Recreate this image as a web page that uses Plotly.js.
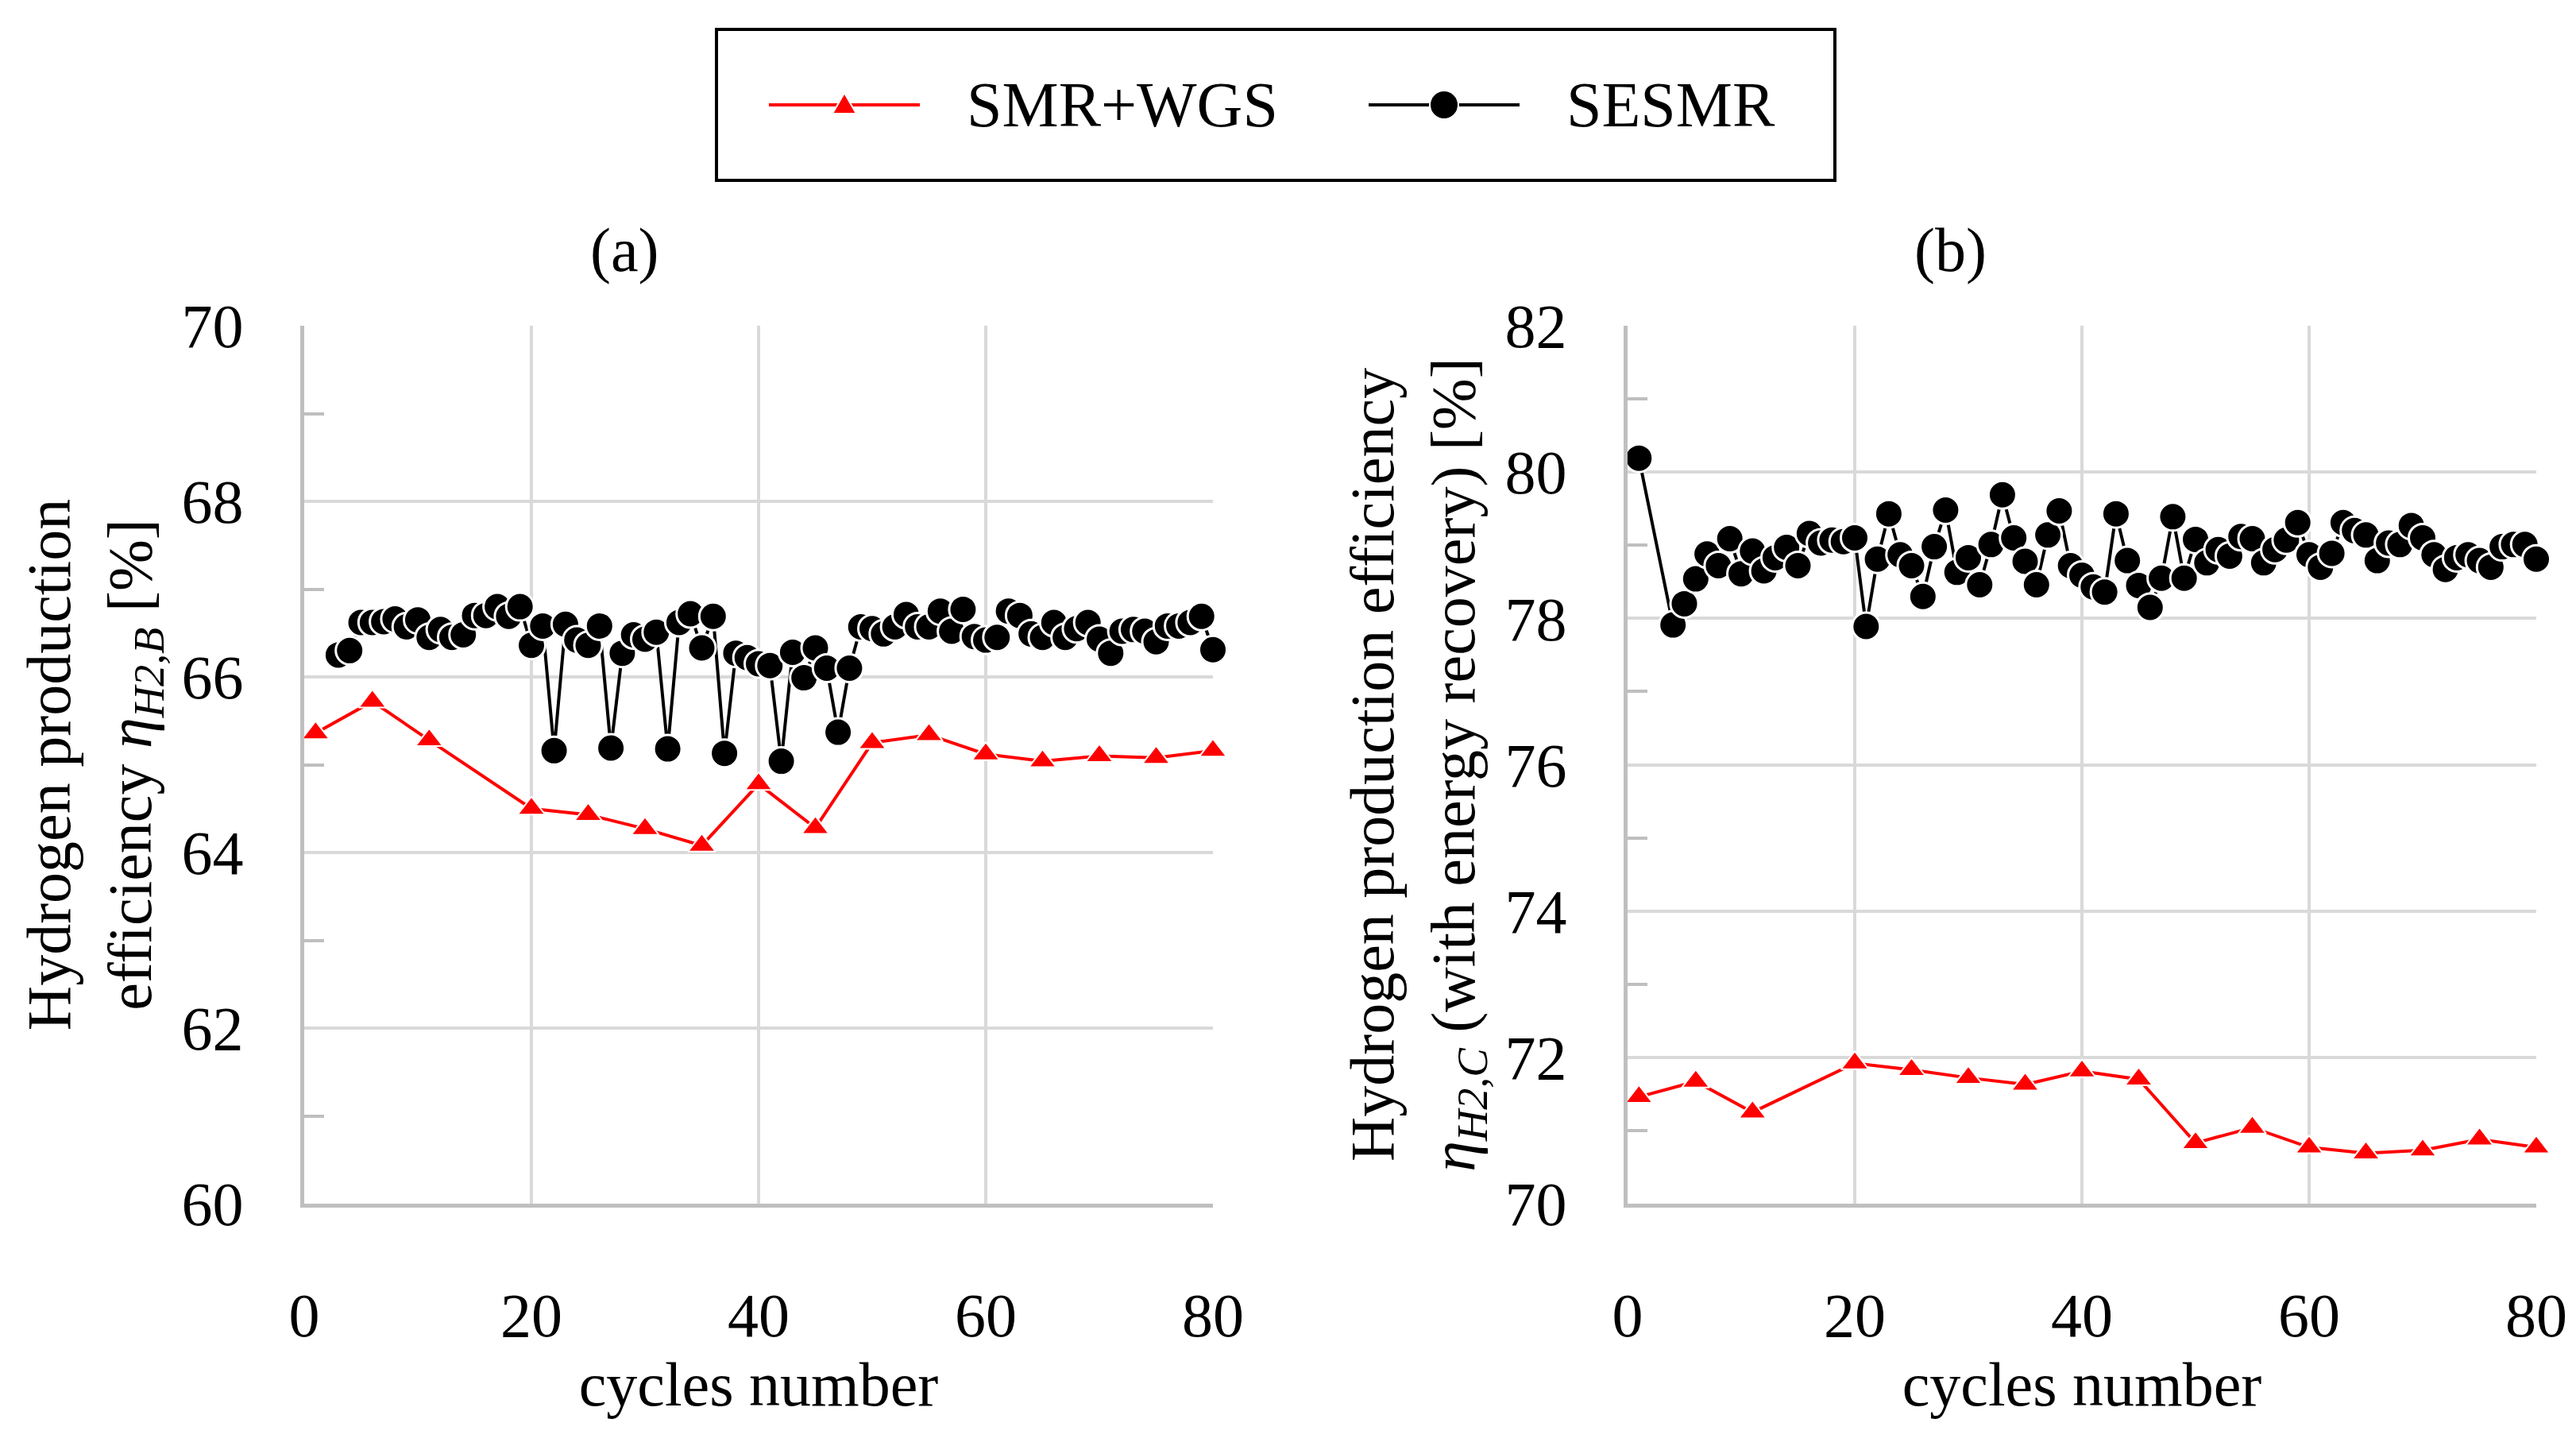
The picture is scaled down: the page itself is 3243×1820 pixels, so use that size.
<!DOCTYPE html>
<html><head><meta charset="utf-8">
<script src="https://cdn.plot.ly/plotly-3.0.1.min.js"></script>
<style>html,body{margin:0;padding:0;background:#fff;}#chart{width:3243px;height:1820px;}</style>
</head><body><div id="chart"></div>
<script>
// ---------------- data ----------------
const xTickVals = [0, 20, 40, 60, 80];
const seriesNames = ['SMR+WGS', 'SESMR'];
const panelTitles = ['(a)', '(b)'];

const cyclesSMR = [1, 6, 11, 20, 25, 30, 35, 40, 45, 50, 55, 60, 65, 70, 75, 80];
const smrWgsA = [65.36, 65.72, 65.28, 64.50, 64.43, 64.27, 64.08, 64.78, 64.28, 65.25, 65.34, 65.12, 65.04, 65.10, 65.08, 65.16];
const smrWgsB = [71.46, 71.67, 71.25, 71.92, 71.83, 71.72, 71.63, 71.81, 71.70, 70.83, 71.04, 70.77, 70.69, 70.73, 70.88, 70.77];

const cyclesSesmrA = [3,4,5,6,7,8,9,10,11,12,13,14,15,16,17,18,19,20,21,22,23,24,25,26,27,28,29,30,31,32,33,34,35,36,37,38,39,40,41,42,43,44,45,46,47,48,49,50,51,52,53,54,55,56,57,58,59,60,61,62,63,64,65,66,67,68,69,70,71,72,73,74,75,76,77,78,79,80];
const sesmrA = [66.25,66.30,66.62,66.62,66.63,66.66,66.57,66.65,66.45,66.54,
                66.45,66.48,66.70,66.70,66.80,66.69,66.80,66.36,66.58,65.16,
                66.60,66.42,66.36,66.58,65.19,66.27,66.48,66.43,66.51,65.18,
                66.62,66.72,66.33,66.69,65.13,66.27,66.22,66.15,66.13,65.04,
                66.28,65.99,66.33,66.10,65.37,66.10,66.57,66.55,66.49,66.57,
                66.71,66.57,66.57,66.75,66.52,66.77,66.46,66.42,66.45,66.75,
                66.70,66.49,66.45,66.62,66.45,66.55,66.62,66.43,66.27,66.52,
                66.54,66.52,66.40,66.58,66.58,66.62,66.69,66.31];

const cyclesSesmrB = [1,4,5,6,7,8,9,10,11,12,13,14,15,16,17,18,19,20,21,22,23,24,25,26,27,28,29,30,31,32,33,34,35,36,37,38,39,40,41,42,43,44,45,46,47,48,49,50,51,52,53,54,55,56,57,58,59,60,61,62,63,64,65,66,67,68,69,70,71,72,73,74,75,76,77,78,79,80];
const sesmrB = [80.19,
                77.91,78.20,78.54,78.88,78.72,79.09,78.61,78.92,78.65,78.83,
                78.97,78.72,79.16,79.03,79.07,79.05,79.10,77.89,78.81,79.43,
                78.87,78.72,78.30,78.98,79.48,78.63,78.83,78.46,79.01,79.69,
                79.10,78.78,78.46,79.14,79.47,78.72,78.59,78.43,78.36,79.43,
                78.79,78.45,78.15,78.55,79.39,78.55,79.08,78.76,78.94,78.85,
                79.12,79.09,78.76,78.94,79.07,79.31,78.87,78.70,78.89,79.31,
                79.20,79.14,78.79,79.03,79.01,79.27,79.10,78.87,78.67,78.83,
                78.87,78.79,78.70,78.98,79.01,79.01,78.81];

// ---------------- style / layout ----------------
const W = 3243, H = 1820;
const M = {l: 383, r: 50, t: 410, b: 305};
const PW = W - M.l - M.r, PH = H - M.t - M.b;
const px2x = p => (p - M.l) / PW;
const px2y = p => (H - M.b - p) / PH;

const SERIF = '"Liberation Serif", "Times New Roman", Times, serif';
const RED = '#ff0000', BLACK = '#000000';
const tickFont = {family: SERIF, size: 78, color: '#000'};
const titleFont = {family: SERIF, size: 78, color: '#000'};

function smrTrace(x, y, xa, ya) {
  return {x: x, y: y, xaxis: xa, yaxis: ya, type: 'scatter', mode: 'lines+markers',
    name: seriesNames[0], showlegend: false, cliponaxis: false,
    line: {color: RED, width: 4},
    marker: {symbol: 'triangle-up', size: 30, color: RED, line: {color: '#fff', width: 2}}};
}
function sesmrTrace(x, y, xa, ya) {
  return {x: x, y: y, xaxis: xa, yaxis: ya, type: 'scatter', mode: 'lines+markers',
    name: seriesNames[1], showlegend: false, cliponaxis: false,
    line: {color: BLACK, width: 4},
    marker: {symbol: 'circle', size: 35, color: BLACK, line: {color: '#fff', width: 3}}};
}

const traces = [
  smrTrace(cyclesSMR, smrWgsA, 'x', 'y'),
  sesmrTrace(cyclesSesmrA, sesmrA, 'x', 'y'),
  smrTrace(cyclesSMR, smrWgsB, 'x2', 'y2'),
  sesmrTrace(cyclesSesmrB, sesmrB, 'x2', 'y2')
];

function xAxis(domain, anchor) {
  return {domain: domain, anchor: anchor, range: [0, 80], tickvals: xTickVals, ticks: '',
    showgrid: true, gridcolor: '#d9d9d9', gridwidth: 4, zeroline: false,
    showline: true, linecolor: '#bfbfbf', linewidth: 5,
    tickfont: tickFont, ticklabelstandoff: 68, automargin: false,
    title: {text: 'cycles number', font: titleFont, standoff: 16}};
}
function yAxis(range, anchor, title) {
  return {domain: [0, 1], anchor: anchor, range: range, dtick: 2, ticks: '',
    showgrid: true, gridcolor: '#d9d9d9', gridwidth: 4, zeroline: false,
    showline: true, linecolor: '#bfbfbf', linewidth: 5,
    minor: {dtick: 1, ticks: 'inside', ticklen: 25, tickwidth: 4, tickcolor: '#bfbfbf', showgrid: false},
    tickfont: tickFont, ticklabelstandoff: 56, automargin: false,
    title: {text: title, font: titleFont, standoff: 14}};
}

const xA = 2049;
const layout = {
  width: W, height: H, margin: M,
  paper_bgcolor: '#fff', plot_bgcolor: '#fff', showlegend: false,
  xaxis: xAxis([0, px2x(1527)], 'y'),
  yaxis: yAxis([60, 70], 'x', 'Hydrogen production<br>efficiency <i>η<sub>H2,B</sub></i> [%]'),
  xaxis2: xAxis([px2x(xA), 1], 'y2'),
  yaxis2: yAxis([70, 82], 'x2', 'Hydrogen production efficiency<br><i>η<sub>H2,C</sub></i> (with energy recovery) [%]'),
  annotations: [
    {text: panelTitles[0], xref: 'paper', yref: 'paper', x: px2x(786), y: px2y(314), showarrow: false, xanchor: 'center', yanchor: 'middle', font: titleFont},
    {text: panelTitles[1], xref: 'paper', yref: 'paper', x: px2x(2455), y: px2y(314), showarrow: false, xanchor: 'center', yanchor: 'middle', font: titleFont},
    {text: seriesNames[0], xref: 'paper', yref: 'paper', x: px2x(1215), y: px2y(132), showarrow: false, xanchor: 'left', yanchor: 'middle', font: {family: SERIF, size: 80, color: '#000'}},
    {text: seriesNames[1], xref: 'paper', yref: 'paper', x: px2x(1970), y: px2y(132), showarrow: false, xanchor: 'left', yanchor: 'middle', font: {family: SERIF, size: 80, color: '#000'}}
  ],
  shapes: [
    {type: 'rect', xref: 'paper', yref: 'paper', x0: px2x(902), x1: px2x(2310), y0: px2y(37), y1: px2y(227), line: {color: '#000', width: 4}, fillcolor: 'rgba(0,0,0,0)'},
    {type: 'line', xref: 'paper', yref: 'paper', x0: px2x(968), x1: px2x(1158), y0: px2y(132), y1: px2y(132), line: {color: RED, width: 4}},
    {type: 'path', xref: 'paper', yref: 'paper',
      path: 'M ' + px2x(1048) + ' ' + px2y(143) + ' L ' + px2x(1078) + ' ' + px2y(143) + ' L ' + px2x(1063) + ' ' + px2y(117) + ' Z',
      fillcolor: RED, line: {color: '#fff', width: 2}},
    {type: 'line', xref: 'paper', yref: 'paper', x0: px2x(1723), x1: px2x(1913), y0: px2y(132), y1: px2y(132), line: {color: BLACK, width: 4}},
    {type: 'circle', xref: 'paper', yref: 'paper', x0: px2x(1800), x1: px2x(1836), y0: px2y(114), y1: px2y(150), fillcolor: BLACK, line: {color: '#fff', width: 2}}
  ]
};

Plotly.newPlot('chart', traces, layout, {staticPlot: true, displayModeBar: false});
</script></body></html>
